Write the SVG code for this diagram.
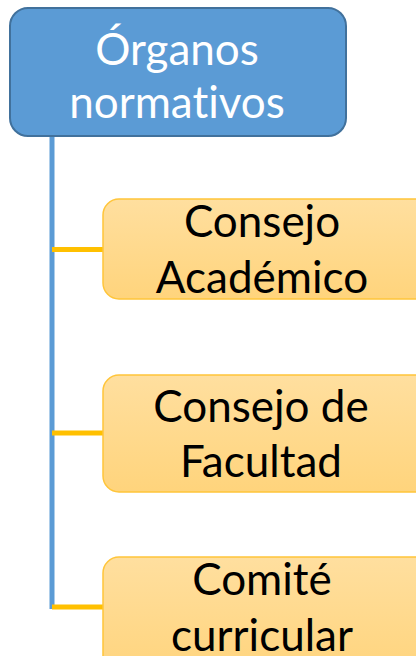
<svg xmlns="http://www.w3.org/2000/svg" width="416" height="656" viewBox="0 0 416 656">
<defs>
<linearGradient id="gy" x1="0" y1="0" x2="0" y2="1">
<stop offset="0" stop-color="#ffdf9f"/>
<stop offset="1" stop-color="#ffd47c"/>
</linearGradient>
<style>
.t{font-family:Lato,"Liberation Sans",sans-serif;font-size:44px;text-anchor:middle;font-variant-ligatures:none;font-feature-settings:"liga" 0}
.w{fill:#ffffff}
.k{fill:#000000}
.child{fill:url(#gy);stroke:#ffc53a;stroke-width:1.5}
.yl{stroke:#ffc000;stroke-width:5;fill:none}
</style>
</defs>
<rect width="416" height="656" fill="#ffffff"/>
<g id="connectors">
<line x1="52" y1="136" x2="52" y2="609" stroke="#5b9bd5" stroke-width="5"/>
<line class="yl" x1="52" y1="249.5" x2="104" y2="249.5"/>
<line class="yl" x1="52" y1="433" x2="104" y2="433"/>
<line class="yl" x1="52" y1="607" x2="104" y2="607"/>
</g>
<g id="root">
<rect x="10" y="8" width="336" height="128" rx="18" fill="#5b9bd5" stroke="#41719c" stroke-width="2"/>
<text class="t w" x="177" y="65">Órganos</text>
<text class="t w" x="177" y="118">normativos</text>
</g>
<g id="n1">
<rect class="child" x="103" y="199" width="330" height="100" rx="16"/>
<text class="t k" x="262" y="237">Consejo</text>
<text class="t k" x="262" y="293">Académico</text>
</g>
<g id="n2">
<rect class="child" x="103" y="375" width="330" height="117" rx="16"/>
<text class="t k" x="261" y="422">Consejo de</text>
<text class="t k" x="261" y="477">Facultad</text>
</g>
<g id="n3">
<rect class="child" x="103" y="557" width="330" height="120" rx="16"/>
<text class="t k" x="262" y="595">Comité</text>
<text class="t k" x="262" y="651">curricular</text>
</g>
</svg>
